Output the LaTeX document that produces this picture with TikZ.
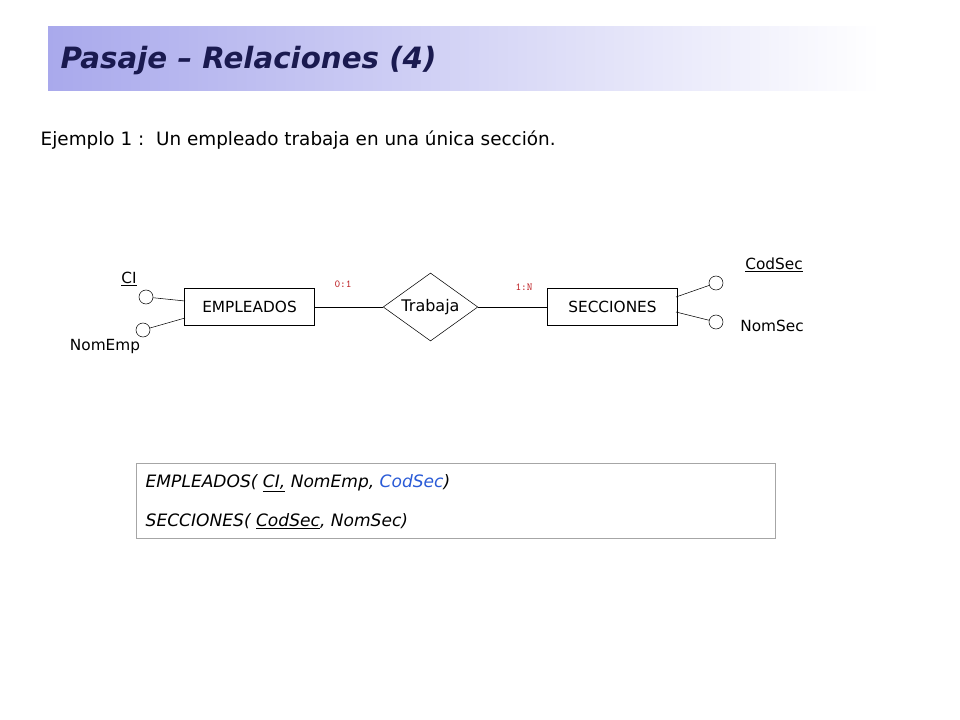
\documentclass[tikz,border=0pt]{standalone}
\usepackage{fontspec}
\setmainfont{DejaVu Sans}
\usetikzlibrary{shapes.geometric}
\definecolor{navy}{HTML}{1A1A50}
\definecolor{lav}{HTML}{A9A9EC}
\definecolor{keyred}{HTML}{C0282C}
\definecolor{fkblue}{HTML}{2A5BD7}
\tikzset{
 ent/.style={draw,thick,minimum width=97pt,minimum height=28pt,font=\fontsize{11.5}{13}\selectfont,inner sep=0pt},
 rel/.style={draw,diamond,aspect=1.4,minimum width=71pt,minimum height=51pt,inner sep=0pt,font=\fontsize{12}{14}\selectfont},
 attr/.style={draw,circle,minimum size=10.5pt,inner sep=0pt,fill=white},
 lbl/.style={font=\fontsize{11.5}{13}\selectfont},
 card/.style={text=keyred,font=\fontsize{8}{9}\selectfont\ttfamily},
 ln/.style={thin}
}
\begin{document}
\begin{tikzpicture}[x=0.75pt,y=-0.75pt]
\useasboundingbox (0,0) rectangle (960,720);
\fill[white] (0,0) rectangle (960,720);
\shade[left color=lav,right color=white] (48,27) rectangle (880,91);
\node[anchor=west,text=navy,font=\fontsize{22}{26}\selectfont\bfseries\itshape] (title) at (56,61) {Pasaje -- Relaciones (4)};
\node[anchor=west,font=\fontsize{13.8}{16}\selectfont] (ej) at (36,140) {Ejemplo 1 :\ \ Un empleado trabaja en una única sección.};
\node[ent] (emp) at (249.5,307) {EMPLEADOS};
\node[rel] (tr) at (430.5,307) {Trabaja};
\node[ent] (sec) at (612.5,307) {SECCIONES};
\draw[ln] (emp.east) -- (tr.west);
\draw[ln] (tr.east) -- (sec.west);
\node[card] (c1) at (343,284) {0:1};
\node[card] (c2) at (524,287) {1:N};
\node[attr] (aci) at (146,297) {};
\node[attr] (ane) at (143,330) {};
\coordinate (e1) at (185,301);
\coordinate (e2) at (185,318);
\draw[ln] (aci) -- (e1);
\draw[ln] (ane) -- (e2);
\node[lbl] (tci) at (129,279) {\underline{CI}};
\node[lbl] (tne) at (105,347) {NomEmp};
\node[attr] (acs) at (716,283) {};
\node[attr] (ans) at (716,322) {};
\coordinate (s1) at (676,297);
\coordinate (s2) at (676,312);
\draw[ln] (acs) -- (s1);
\draw[ln] (ans) -- (s2);
\node[lbl] (tcs) at (774,265) {\underline{CodSec}};
\node[lbl] (tns) at (772,326) {NomSec};
\draw[gray!70] (136,463) rectangle (775,538);
\node[anchor=west,font=\fontsize{12.8}{15}\selectfont\itshape] (r1) at (141,483) {EMPLEADOS(\ \underline{CI,} NomEmp, \textcolor{fkblue}{CodSec})};
\node[anchor=west,font=\fontsize{12.8}{15}\selectfont\itshape] (r2) at (141,521) {SECCIONES(\ \underline{CodSec}, NomSec)};
\end{tikzpicture}
\end{document}
